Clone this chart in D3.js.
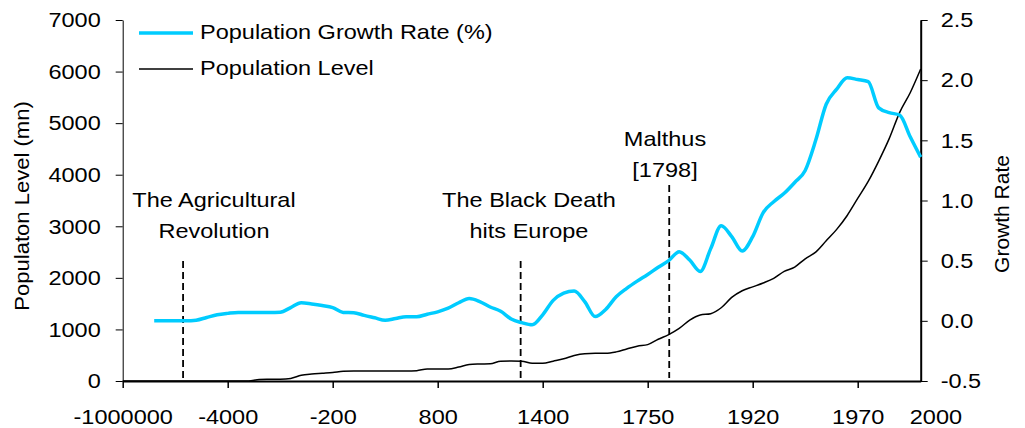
<!DOCTYPE html>
<html>
<head>
<meta charset="utf-8">
<script src="https://cdnjs.cloudflare.com/ajax/libs/d3/7.8.5/d3.min.js"></script>
<style>
  body { margin: 0; background: #fff; }
  text { font-family: "Liberation Sans", Arial, sans-serif; fill: #000; }
</style>
</head>
<body>
<script>
// category axis labels (every 10th period) and where they sit
var tickLabels = ["-1000000", "-4000", "-200", "800", "1400", "1750", "1920", "1970", "2000"];
var tickAt = [0, 10, 20, 30, 40, 50, 60, 70, 77.4];

// population level (mn), one value per period
var population = [0, 0, 0, 0, 0, 0, 0, 0, 0, 0,
  0, 0, 0, 30, 33, 35, 50, 110, 135, 150,
  165, 190, 194, 194, 194, 194, 194, 194, 200, 233,
  233, 233, 270, 320, 330, 335, 385, 388, 385, 345,
  343, 385, 430, 495, 530, 537, 537, 565, 620, 675,
  705, 810, 900, 1020, 1180, 1280, 1305, 1420, 1620, 1750,
  1825, 1900, 1990, 2125, 2210, 2370, 2500, 2720, 2940, 3210,
  3540, 3870, 4265, 4700, 5210, 5590, 6050];

// population growth rate (%), same periods (first three missing)
var growthRate = [null, null, null, 0.0, 0.0, 0.0, 0.0, 0.005, 0.028, 0.05,
  0.062, 0.07, 0.07, 0.07, 0.07, 0.072, 0.11, 0.15, 0.14, 0.127,
  0.11, 0.07, 0.068, 0.045, 0.025, 0.005, 0.02, 0.034, 0.034, 0.055,
  0.075, 0.105, 0.15, 0.185, 0.16, 0.115, 0.08, 0.015, -0.015, -0.033,
  0.05, 0.17, 0.23, 0.248, 0.16, 0.035, 0.095, 0.2, 0.27, 0.33,
  0.385, 0.445, 0.5, 0.575, 0.505, 0.41, 0.6, 0.79, 0.7, 0.58,
  0.7, 0.9, 0.99, 1.06, 1.15, 1.25, 1.5, 1.8, 1.925, 2.02,
  2.005, 1.987, 1.77, 1.73, 1.71, 1.53, 1.36];

// events marked with dashed lines (period position)
var eventNames = [["The Agricultural", "Revolution"], ["The Black Death", "hits Europe"], ["Malthus", "[1798]"]];
var eventAt = [5.75, 37.9, 52.05];

var levelTicks = [0, 1000, 2000, 3000, 4000, 5000, 6000, 7000];
var rateTicks = [-0.5, 0, 0.5, 1, 1.5, 2, 2.5];

(function(){
var width = 1025, height = 428;
var mLeft = 122.7, mRight = 920.7, mTop = 20, mBottom = 381;
var fs = "21px";
var stretch = 1.12; // text in the picture is drawn a bit wide

var svg = d3.select("body").append("svg")
    .attr("width", width)
    .attr("height", height);

svg.append("rect").attr("width", width).attr("height", height).attr("fill", "#fff");

var x = d3.scaleLinear().domain([0, population.length - 1]).range([mLeft, mRight]);
var yL = d3.scaleLinear().domain([0, 7000]).range([mBottom, mTop]);
var yR = d3.scaleLinear().domain([-0.5, 2.5]).range([mBottom, mTop]);

// widen a text around its anchor x
function widen(sel){
  sel.each(function(){
    var ax = +d3.select(this).attr("x") || 0;
    d3.select(this).attr("transform", "translate(" + ax + ",0) scale(" + stretch + ",1) translate(" + (-ax) + ",0)");
  });
}

// left axis
var gL = svg.append("g").attr("transform", "translate(" + mLeft + ",0)")
    .call(d3.axisLeft(yL).tickValues(levelTicks).tickSize(7).tickSizeOuter(0).tickPadding(15)
      .tickFormat(function(d){ return String(d); }));
gL.select(".domain").attr("stroke", "#000").attr("stroke-width", 1);
gL.selectAll("text").style("font-size", fs).attr("font-family", null).call(widen);

// right axis
var gR = svg.append("g").attr("transform", "translate(" + mRight + ",0)")
    .call(d3.axisRight(yR).tickValues(rateTicks).tickSize(7).tickSizeOuter(0).tickPadding(13)
      .tickFormat(function(d){ return d.toFixed(1); }));
gR.select(".domain").attr("stroke", "#000").attr("stroke-width", 2);
gR.selectAll("text").style("font-size", fs).attr("font-family", null).call(widen);

// bottom axis
var gB = svg.append("g").attr("transform", "translate(0," + mBottom + ")")
    .call(d3.axisBottom(x).tickValues(tickAt).tickSize(7).tickSizeOuter(0).tickPadding(21)
      .tickFormat(function(d, i){ return tickLabels[i]; }));
gB.select(".domain").attr("stroke", "#000").attr("stroke-width", 2);
gB.selectAll(".tick line").attr("stroke-width", 1.5);
gB.selectAll(".tick").filter(function(d){ return d > population.length - 1; }).select("line").remove();
gB.selectAll("text").style("font-size", fs).attr("font-family", null).call(widen);

// axis titles
svg.append("text")
    .attr("transform", "translate(29,206) rotate(-90) scale(1.05,1)")
    .attr("text-anchor", "middle")
    .style("font-size", fs)
    .text("Populaton Level (mn)");
svg.append("text")
    .attr("transform", "translate(1009,214) rotate(-90)")
    .attr("text-anchor", "middle")
    .style("font-size", fs)
    .text("Growth Rate");

// event markers
var dashTop = [261, 261, 185];
var labelX = [214, 529, 665];
var labelY = [207, 207, 146];
eventAt.forEach(function(e, i){
  svg.append("line")
      .attr("x1", x(e)).attr("x2", x(e))
      .attr("y1", dashTop[i]).attr("y2", 378)
      .attr("stroke", "#000").attr("stroke-width", 1.8)
      .attr("stroke-dasharray", "7,4");
  var t = svg.append("text")
      .attr("x", labelX[i])
      .attr("text-anchor", "middle")
      .style("font-size", fs);
  eventNames[i].forEach(function(s, j){
    t.append("tspan").attr("x", labelX[i]).attr("y", labelY[i] + j * 31).text(s);
  });
  widen(t);
});

// population level line
svg.append("path")
    .datum(population)
    .attr("fill", "none")
    .attr("stroke", "#000")
    .attr("stroke-width", 1.5)
    .attr("d", d3.line()
      .x(function(d, i){ return x(i); })
      .y(function(d){ return yL(d); })
      .curve(d3.curveMonotoneX));

// growth rate line
svg.append("path")
    .datum(growthRate)
    .attr("fill", "none")
    .attr("stroke", "#00CCFF")
    .attr("stroke-width", 3.5)
    .attr("stroke-linejoin", "round")
    .attr("d", d3.line()
      .defined(function(d){ return d !== null; })
      .x(function(d, i){ return x(i); })
      .y(function(d){ return yR(d); })
      .curve(d3.curveMonotoneX));

// legend
var legend = [
  {name: "Population Growth Rate (%)", color: "#00CCFF", w: 3.5},
  {name: "Population Level", color: "#000", w: 1.5}
];
legend.forEach(function(d, i){
  var ly = 33 + i * 36;
  svg.append("line")
      .attr("x1", 139).attr("x2", 193)
      .attr("y1", ly).attr("y2", ly)
      .attr("stroke", d.color).attr("stroke-width", d.w);
  svg.append("text")
      .attr("x", 200).attr("y", ly + 6.5)
      .style("font-size", fs)
      .text(d.name)
      .call(widen);
});
})();
</script>
</body>
</html>
